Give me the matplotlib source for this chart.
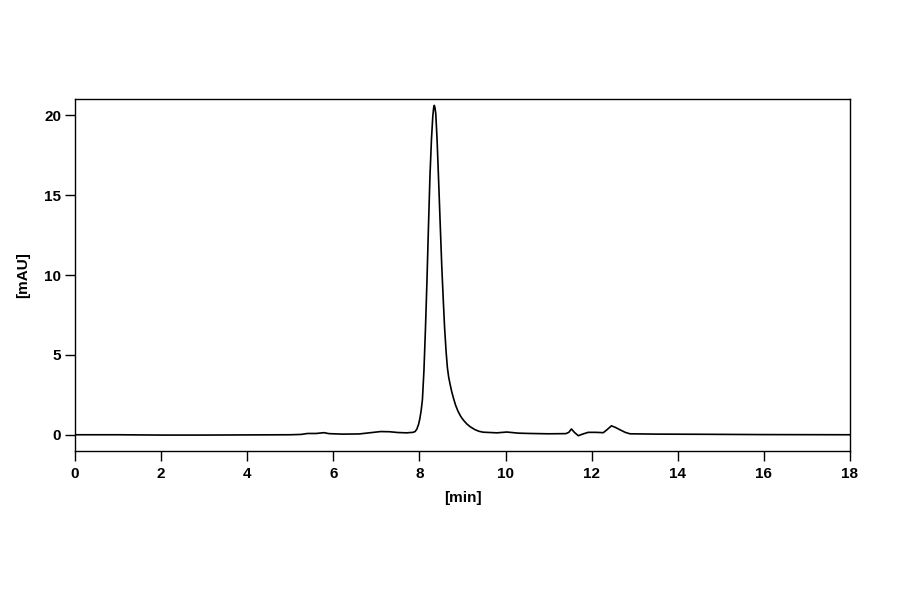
import matplotlib
matplotlib.use("Agg")
import matplotlib.pyplot as plt

# ── Chromatogram trace ───────────────────────────────────────────────────────
time_min = [
    0.0, 1.0, 2.0, 3.0, 4.0, 5.0, 5.25, 5.4, 5.6, 5.78, 5.9, 6.2, 6.6, 6.9,
    7.1, 7.3, 7.5, 7.7, 7.85, 7.9, 7.94, 7.98, 8.01, 8.04, 8.07, 8.105, 8.14,
    8.175, 8.21, 8.245, 8.28, 8.31, 8.33, 8.345, 8.36, 8.38, 8.41, 8.445,
    8.48, 8.52, 8.555, 8.585, 8.62, 8.65, 8.68, 8.71, 8.75, 8.79, 8.84,
    8.9, 8.96, 9.02, 9.1, 9.18, 9.29, 9.38, 9.48, 9.8, 10.03, 10.3, 10.57,
    11.0, 11.4, 11.47, 11.53, 11.6, 11.69, 11.8, 11.92, 12.1, 12.27, 12.35,
    12.46, 12.56, 12.66, 12.78, 12.89, 13.5, 14.5, 16.0, 18.0,
]
signal_mau = [
    0.0, 0.0, -0.02, -0.02, -0.01, 0.0, 0.02, 0.08, 0.08, 0.13, 0.07, 0.04,
    0.05, 0.14, 0.2, 0.19, 0.14, 0.12, 0.15, 0.2, 0.35, 0.65, 1.0, 1.5, 2.2,
    4.0, 6.6, 9.6, 13.0, 16.2, 18.5, 19.9, 20.45, 20.62, 20.5, 20.1, 18.5,
    16.0, 13.4, 10.5, 8.4, 6.7, 5.2, 4.2, 3.6, 3.2, 2.7, 2.3, 1.85, 1.45,
    1.15, 0.92, 0.68, 0.5, 0.32, 0.22, 0.16, 0.12, 0.17, 0.1, 0.08, 0.06,
    0.07, 0.15, 0.36, 0.15, -0.06, 0.05, 0.15, 0.15, 0.13, 0.3, 0.56, 0.45,
    0.31, 0.15, 0.06, 0.04, 0.03, 0.01, 0.0,
]

x_ticks = [0, 2, 4, 6, 8, 10, 12, 14, 16, 18]
y_ticks = [0, 5, 10, 15, 20]

plt.rcParams["font.family"] = ["Liberation Sans", "DejaVu Sans"]

fig = plt.figure(figsize=(9, 5.94), dpi=100)
ax = fig.add_axes([0.0833, 0.2412, 0.8611, 0.5916])

ax.plot(time_min, signal_mau, color="black", lw=1.2)

ax.set_xlim(0, 18)
ax.set_ylim(-1, 21)
ax.set_xticks(x_ticks)
ax.set_yticks(y_ticks)
ax.tick_params(direction="out", length=7, width=1, labelsize=11, colors="black")
ax.tick_params(axis="y", pad=3)
ax.tick_params(axis="x", pad=5)
for lab in ax.get_xticklabels() + ax.get_yticklabels():
    lab.set_fontweight("bold")
for sp in ax.spines.values():
    sp.set_linewidth(1.0)
    sp.set_color("black")

ax.set_xlabel("[min]", fontsize=11, fontweight="bold", labelpad=7)
ax.set_ylabel("[mAU]", fontsize=11, fontweight="bold", labelpad=10)

fig.savefig("out.png", dpi=100, facecolor="white")
